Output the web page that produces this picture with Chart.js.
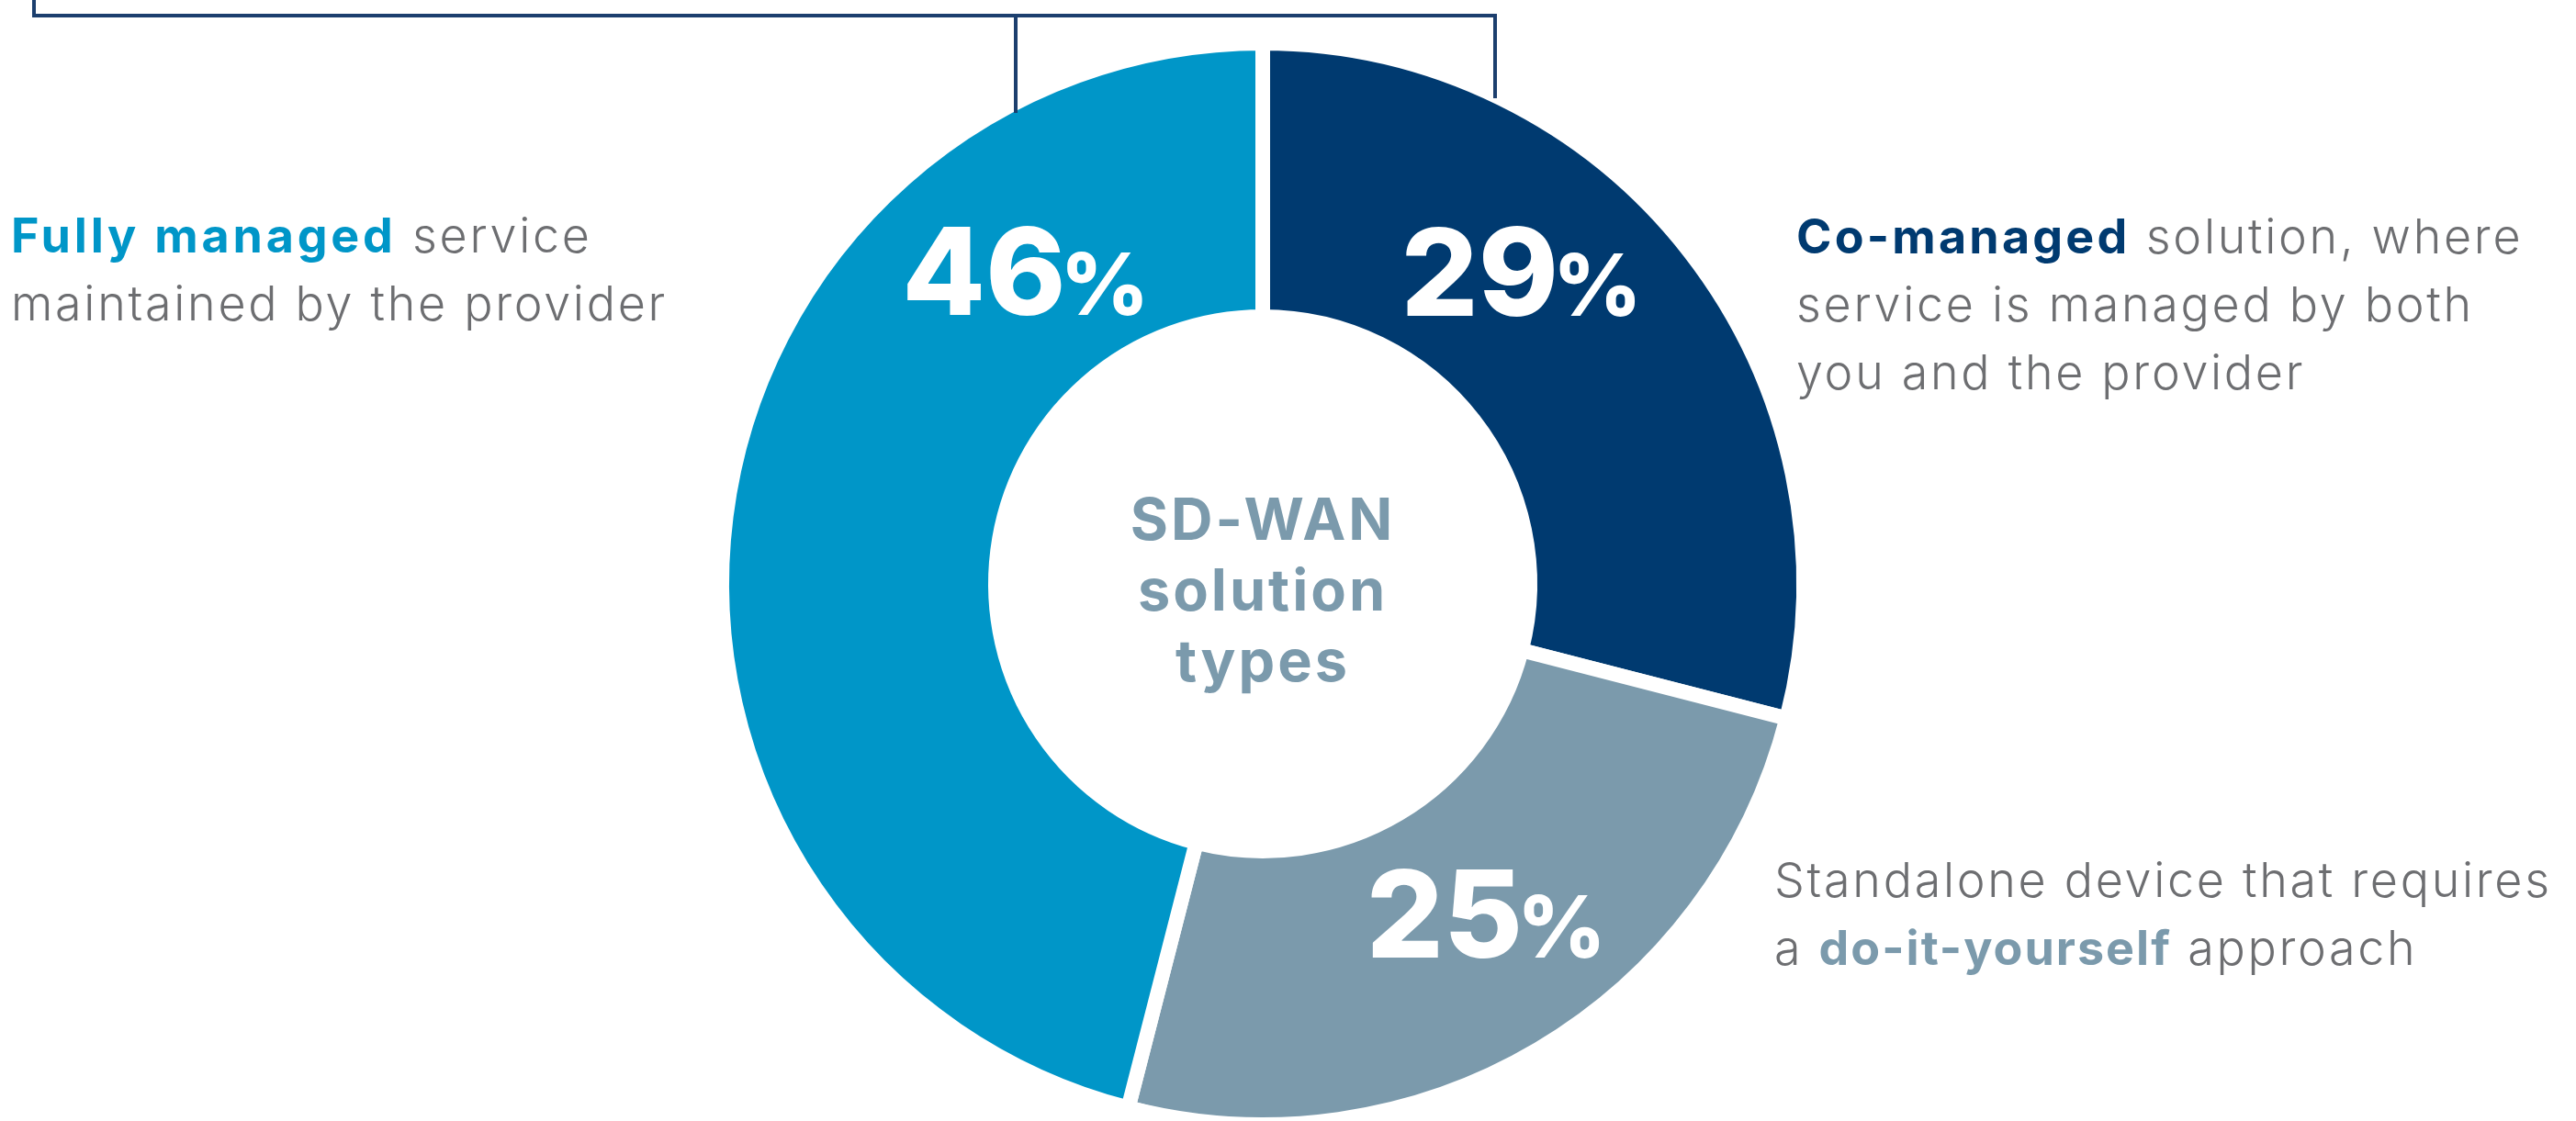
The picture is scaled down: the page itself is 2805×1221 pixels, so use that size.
<!DOCTYPE html>
<html>
<head>
<meta charset="utf-8">
<script src="https://cdn.jsdelivr.net/npm/chart.js@4.4.0/dist/chart.umd.min.js"></script>
<style>
  html, body { margin: 0; padding: 0; background: #fff; overflow: hidden; }
  #wrap { position: relative; width: 2805px; height: 1221px; }
  #wrap canvas { position: absolute; left: 0; top: 0; }
  .note {
    position: absolute;
    font-family: Inter, "Open Sans", sans-serif;
    font-weight: 300;
    font-size: 52px;
    line-height: 74px;
    letter-spacing: 2.7px;
    color: #6d6e71;
    white-space: nowrap;
  }
  .note b { font-weight: 700; letter-spacing: 3.2px; }
  #centerText {
    position: absolute;
    left: 1125px; width: 500px;
    top: 527px;
    text-align: center;
    font-family: Inter, "Open Sans", sans-serif;
    font-weight: 700;
    font-size: 63px;
    line-height: 77px;
    letter-spacing: 3px;
    color: #7b9aac;
  }
</style>
</head>
<body>
<div id="wrap">
  <canvas id="myChart" width="2805" height="1221"></canvas>
  <div class="note" style="left:12px; top:220px;"><b style="color:#0096c8; letter-spacing:3.8px">Fully managed</b> service<br>maintained by the provider</div>
  <div class="note" style="left:1956px; top:221px;"><b style="color:#003a70">Co-managed</b> solution, where<br>service is managed by both<br>you and the provider</div>
  <div class="note" style="left:1932px; top:922px;">Standalone device that requires<br>a <b style="color:#7b9aac; letter-spacing:2px">do-it-yourself</b> approach</div>
  <div id="centerText">SD-WAN<br>solution<br>types</div>
</div>
<script>
// slices, clockwise from 12 o'clock
const categories = ['Co-managed solution', 'Standalone device (do-it-yourself)', 'Fully managed service'];
const shares = [29, 25, 46];

const sliceColors = ['#003a70', '#7b9aac', '#0096c8'];
const GAP = 16;
// where each percentage sits: angle clockwise from top (deg), distance from centre (px)
const labelAngles = [39.8, 146.0, 322.7];
const labelDist = [440, 435, 426];

const pctLabels = {
  id: 'pctLabels',
  afterDatasetsDraw(chart) {
    const ctx = chart.ctx;
    const meta = chart.getDatasetMeta(0);
    ctx.save();
    ctx.fillStyle = '#fff';
    ctx.textBaseline = 'alphabetic';
    ctx.textAlign = 'left';
    meta.data.forEach((arc, i) => {
      const a = labelAngles[i] * Math.PI / 180;
      const cx = arc.x + Math.sin(a) * labelDist[i];
      const cy = arc.y - Math.cos(a) * labelDist[i];
      const num = String(shares[i]);
      ctx.font = '800 132px Inter, "Open Sans", sans-serif';
      const wNum = ctx.measureText(num).width;
      ctx.font = '800 94px Inter, "Open Sans", sans-serif';
      const wPct = ctx.measureText('%').width;
      const gap = -6;
      const x0 = cx - (wNum + wPct + gap) / 2;
      const base = cy + 46;
      ctx.font = '800 132px Inter, "Open Sans", sans-serif';
      ctx.fillText(num, x0, base);
      ctx.font = '800 94px Inter, "Open Sans", sans-serif';
      ctx.fillText('%', x0 + wNum + gap, base);
    });
    ctx.restore();
  }
};

// bracket lines along the top edge
const connector = {
  id: 'connector',
  afterDatasetsDraw(chart) {
    const ctx = chart.ctx;
    ctx.save();
    ctx.strokeStyle = '#1c3f6e';
    ctx.lineWidth = 4;
    ctx.beginPath();
    ctx.moveTo(37, 0); ctx.lineTo(37, 17);
    ctx.lineTo(1628, 17); ctx.lineTo(1628, 107);
    ctx.moveTo(1106, 17); ctx.lineTo(1106, 123);
    ctx.stroke();
    ctx.restore();
  }
};

const ctx = document.getElementById('myChart').getContext('2d');
const chart = new Chart(ctx, {
  type: 'doughnut',
  data: {
    labels: categories,
    datasets: [{
      data: shares,
      backgroundColor: sliceColors,
      borderColor: '#ffffff',
      borderWidth: GAP,
      borderAlign: 'center',
      borderJoinStyle: 'miter'
    }]
  },
  options: {
    responsive: false,
    animation: false,
    radius: 581 + GAP / 2,
    cutout: '49.4%',
    layout: { padding: { top: 51, bottom: 0, left: 0, right: 55 } },
    plugins: {
      legend: { display: false },
      tooltip: { enabled: false }
    }
  },
  plugins: [connector, pctLabels]
});
</script>
</body>
</html>
